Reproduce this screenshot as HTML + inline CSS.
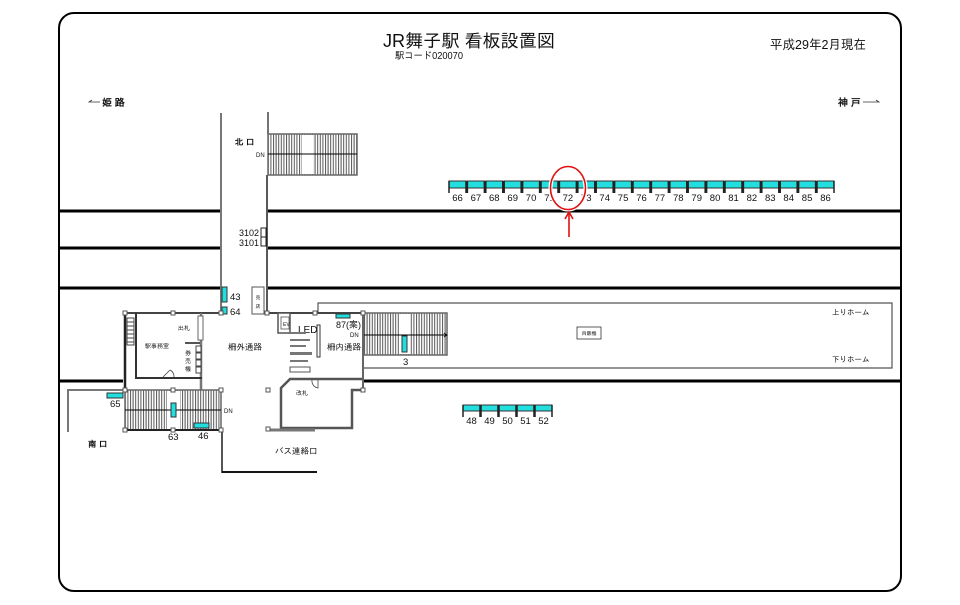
<!DOCTYPE html>
<html><head><meta charset="utf-8">
<style>
html,body{margin:0;padding:0;background:#fff;}
svg{display:block;}
text{font-family:"Liberation Sans","IPAGothic","Noto Sans CJK JP",sans-serif;fill:#111;}
</style></head>
<body>
<svg width="960" height="605" viewBox="0 0 960 605" xmlns="http://www.w3.org/2000/svg">
<defs>
<pattern id="h" width="2.6" height="10" patternUnits="userSpaceOnUse"><rect x="0" y="0" width="1" height="10" fill="#555"/></pattern>
</defs>
<rect width="960" height="605" fill="#fff"/>
<rect x="59" y="13" width="842" height="578" rx="15" fill="#fff" stroke="#000" stroke-width="2"/>

<!-- titles -->
<text x="383" y="47" font-size="18" textLength="172" lengthAdjust="spacingAndGlyphs">JR舞子駅 看板設置図</text>
<text x="395" y="59" font-size="10" textLength="68" lengthAdjust="spacingAndGlyphs">駅コード020070</text>
<text x="770" y="49" font-size="13" textLength="96" lengthAdjust="spacingAndGlyphs">平成29年2月現在</text>
<polyline points="100,102 89,102 92,100" fill="none" stroke="#333" stroke-width="0.8"/>
<text x="102" y="106" font-size="10" font-weight="bold">姫 路</text>
<text x="838" y="106" font-size="10" font-weight="bold">神 戸</text>
<polyline points="863,102 879,102 876,100" fill="none" stroke="#333" stroke-width="0.8"/>

<!-- tracks -->
<g stroke="#000" stroke-width="3">
<line x1="58" y1="211" x2="220" y2="211"/><line x1="268" y1="211" x2="902" y2="211"/>
<line x1="58" y1="248" x2="220" y2="248"/><line x1="268" y1="248" x2="902" y2="248"/>
<line x1="58" y1="288" x2="220" y2="288"/><line x1="268" y1="288" x2="902" y2="288"/>
<line x1="58" y1="381" x2="123" y2="381"/><line x1="363" y1="381" x2="902" y2="381"/>
</g>

<!-- north passage -->
<line x1="221" y1="113" x2="221" y2="313" stroke="#777" stroke-width="2"/>
<line x1="268" y1="112" x2="268" y2="134" stroke="#444" stroke-width="1.5"/>
<line x1="267" y1="175" x2="267" y2="313" stroke="#222" stroke-width="1.5"/>
<rect x="268" y="134" width="89" height="41" fill="url(#h)" stroke="#666" stroke-width="1.5"/>
<rect x="302" y="135" width="11" height="39" fill="#fff"/>
<line x1="268" y1="154" x2="357" y2="154" stroke="#000" stroke-width="1"/>
<text x="256" y="157" font-size="6">DN</text>
<text x="235" y="145" font-size="8.5" font-weight="bold">北 口</text>

<text x="259" y="236" font-size="9" text-anchor="end">3102</text>
<text x="259" y="246" font-size="9" text-anchor="end">3101</text>
<rect x="261" y="228" width="5" height="9" fill="#fff" stroke="#222" stroke-width="1"/>
<rect x="261" y="237" width="5" height="9" fill="#fff" stroke="#222" stroke-width="1"/>

<rect x="222" y="287" width="5" height="15" fill="#22dede" stroke="#333" stroke-width="1"/>
<text x="230" y="300" font-size="9.5">43</text>
<rect x="222" y="307" width="5" height="7" fill="#22dede" stroke="#333" stroke-width="1"/>
<text x="230" y="315" font-size="9.5">64</text>
<rect x="252" y="287" width="12" height="27" fill="#fff" stroke="#555" stroke-width="1"/>
<text x="258" y="299" font-size="5" text-anchor="middle">売</text>
<text x="258" y="308" font-size="5" text-anchor="middle">店</text>

<!-- platform -->
<polyline points="318,313 318,303 892,303 892,368 363,368" fill="none" stroke="#555" stroke-width="1.2"/>
<text x="832" y="315" font-size="7.5">上りホーム</text>
<text x="832" y="362" font-size="7.5">下りホーム</text>
<rect x="577" y="327" width="24" height="12" fill="#fff" stroke="#333" stroke-width="0.8"/>
<text x="589" y="335" font-size="5" text-anchor="middle">自販機</text>

<!-- walls top -->
<g stroke="#444" stroke-width="2">
<line x1="125" y1="313" x2="222" y2="313"/>
<line x1="267" y1="313" x2="363" y2="313"/>
</g>
<line x1="125" y1="313" x2="125" y2="390" stroke="#222" stroke-width="2.5"/>
<line x1="201" y1="313" x2="201" y2="390" stroke="#777" stroke-width="2.5"/>
<polyline points="136,313 136,378 202,378" fill="none" stroke="#333" stroke-width="2"/>
<g stroke="#444" stroke-width="1">
<rect x="127" y="318" width="7" height="27" fill="#fff"/>
<line x1="127" y1="322" x2="134" y2="322"/><line x1="127" y1="326" x2="134" y2="326"/><line x1="127" y1="330" x2="134" y2="330"/><line x1="127" y1="334" x2="134" y2="334"/><line x1="127" y1="338" x2="134" y2="338"/><line x1="127" y1="342" x2="134" y2="342"/>
</g>
<rect x="198" y="316" width="5" height="24" fill="#fff" stroke="#666" stroke-width="1"/>
<line x1="185" y1="343" x2="200" y2="343" stroke="#555" stroke-width="2"/>
<g fill="#fff" stroke="#444" stroke-width="1">
<rect x="196" y="346" width="5" height="6"/><rect x="196" y="353" width="5" height="6"/><rect x="196" y="360" width="5" height="6"/><rect x="196" y="367" width="5" height="6"/>
</g>
<path d="M163 377 L170 370 M170 370 A7 7 0 0 1 174 377" fill="none" stroke="#444" stroke-width="0.8"/>
<text x="178" y="330" font-size="6">出札</text>
<text x="145" y="348" font-size="6">駅事務室</text>
<text x="188" y="355" font-size="6" text-anchor="middle">券</text>
<text x="188" y="363" font-size="6" text-anchor="middle">売</text>
<text x="188" y="371" font-size="6" text-anchor="middle">機</text>
<text x="228" y="350" font-size="8.5">柵外通路</text>

<!-- south stair -->
<polyline points="68,432 68,390 125,390" fill="none" stroke="#777" stroke-width="2"/>
<rect x="125" y="390" width="96" height="40" fill="url(#h)" stroke="#666" stroke-width="1.5"/>
<rect x="167" y="391" width="13" height="38" fill="#fff"/>
<line x1="125" y1="430" x2="221" y2="430" stroke="#222" stroke-width="2"/>
<line x1="125" y1="410" x2="221" y2="410" stroke="#000" stroke-width="1"/>
<text x="224" y="413" font-size="6">DN</text>
<rect x="171" y="403" width="5" height="14" fill="#22dede" stroke="#333" stroke-width="1"/>
<rect x="107" y="393" width="16" height="5" fill="#22dede" stroke="#333" stroke-width="1"/>
<text x="110" y="407" font-size="9.5">65</text>
<rect x="194" y="423" width="15" height="5" fill="#22dede" stroke="#333" stroke-width="1"/>
<text x="198" y="439" font-size="9.5">46</text>
<text x="168" y="440" font-size="9.5">63</text>
<text x="88" y="447" font-size="8.5" font-weight="bold">南 口</text>
<polyline points="222,430 222,472 317,472" fill="none" stroke="#555" stroke-width="2"/>
<line x1="222" y1="472" x2="317" y2="472" stroke="#000" stroke-width="1.5"/>

<!-- inner -->
<rect x="278" y="313" width="12" height="20" fill="#fff" stroke="#555" stroke-width="1.5"/>
<rect x="281" y="317" width="8" height="12" fill="#fff" stroke="#555" stroke-width="0.8"/>
<text x="283" y="326" font-size="5">EV</text>
<text x="298" y="333" font-size="10">LED</text>
<rect x="317" y="325" width="3" height="32" fill="#fff" stroke="#333" stroke-width="1"/>
<g fill="#777">
<rect x="288" y="332" width="18" height="2"/><rect x="290" y="339" width="20" height="2"/><rect x="290" y="345" width="16" height="2"/>
<rect x="290" y="352" width="22" height="3"/><rect x="290" y="360" width="18" height="2"/>
</g>
<rect x="290" y="367" width="20" height="5" fill="#fff" stroke="#555" stroke-width="1"/>
<rect x="336" y="314" width="14" height="4" fill="#22dede" stroke="#333" stroke-width="1"/>
<text x="336" y="328" font-size="9.5" textLength="25" lengthAdjust="spacingAndGlyphs">87(案)</text>
<text x="327" y="350" font-size="8.5">柵内通路</text>

<rect x="363" y="313" width="84" height="42" fill="url(#h)" stroke="#666" stroke-width="1.5"/>
<rect x="399" y="314" width="11" height="40" fill="#fff"/>
<line x1="363" y1="335" x2="447" y2="335" stroke="#000" stroke-width="1"/>
<polyline points="444,333 447,335 444,337" fill="none" stroke="#000" stroke-width="0.8"/>
<text x="350" y="337" font-size="6">DN</text>
<rect x="402" y="336" width="5" height="16" fill="#22dede" stroke="#333" stroke-width="1"/>
<text x="403" y="365" font-size="9.5">3</text>
<line x1="363" y1="313" x2="363" y2="390" stroke="#666" stroke-width="2"/>

<polyline points="362,379 290,379 281,388 281,428 352,428 352,390 363,390" fill="none" stroke="#555" stroke-width="2.5"/>
<path d="M312 380 A7 7 0 0 0 318 388 L318 380" fill="none" stroke="#444" stroke-width="0.8"/>
<text x="296" y="395" font-size="6">改札</text>
<line x1="268" y1="430" x2="315" y2="430" stroke="#777" stroke-width="3"/>
<text x="275" y="454" font-size="8.5">バス連絡口</text>

<!-- nodes -->
<g fill="#fff" stroke="#555" stroke-width="1">
<rect x="123" y="311" width="4" height="4"/><rect x="171" y="311" width="4" height="4"/><rect x="219" y="311" width="4" height="4"/>
<rect x="265" y="311" width="4" height="4"/><rect x="313" y="311" width="4" height="4"/><rect x="361" y="311" width="4" height="4"/>
<rect x="123" y="388" width="4" height="4"/><rect x="171" y="388" width="4" height="4"/><rect x="219" y="388" width="4" height="4"/>
<rect x="123" y="428" width="4" height="4"/><rect x="171" y="428" width="4" height="4"/><rect x="219" y="428" width="4" height="4"/>
<rect x="266" y="388" width="4" height="4"/><rect x="361" y="388" width="4" height="4"/><rect x="266" y="427" width="4" height="4"/>
</g>

<!-- sign rows -->
<g id="signs" font-size="9.5">
<g stroke="#333" stroke-width="1">
<rect x="449" y="181" width="17" height="7" fill="#22dede"/><rect x="467.4" y="181" width="17" height="7" fill="#22dede"/><rect x="485.8" y="181" width="17" height="7" fill="#22dede"/><rect x="504.2" y="181" width="17" height="7" fill="#22dede"/><rect x="522.6" y="181" width="17" height="7" fill="#22dede"/><rect x="541" y="181" width="17" height="7" fill="#22dede"/><rect x="559.4" y="181" width="17" height="7" fill="#22dede"/><rect x="577.8" y="181" width="17" height="7" fill="#22dede"/><rect x="596.2" y="181" width="17" height="7" fill="#22dede"/><rect x="614.6" y="181" width="17" height="7" fill="#22dede"/><rect x="633" y="181" width="17" height="7" fill="#22dede"/><rect x="651.4" y="181" width="17" height="7" fill="#22dede"/><rect x="669.8" y="181" width="17" height="7" fill="#22dede"/><rect x="688.2" y="181" width="17" height="7" fill="#22dede"/><rect x="706.6" y="181" width="17" height="7" fill="#22dede"/><rect x="725" y="181" width="17" height="7" fill="#22dede"/><rect x="743.4" y="181" width="17" height="7" fill="#22dede"/><rect x="761.8" y="181" width="17" height="7" fill="#22dede"/><rect x="780.2" y="181" width="17" height="7" fill="#22dede"/><rect x="798.6" y="181" width="17" height="7" fill="#22dede"/><rect x="817" y="181" width="17" height="7" fill="#22dede"/>
</g>
<g stroke="#222" stroke-width="1.5">
<path d="M449 181v12M466 181v12M467.4 181v12M484.4 181v12M485.8 181v12M502.8 181v12M504.2 181v12M521.2 181v12M522.6 181v12M539.6 181v12M541 181v12M558 181v12M559.4 181v12M576.4 181v12M577.8 181v12M594.8 181v12M596.2 181v12M613.2 181v12M614.6 181v12M631.6 181v12M633 181v12M650 181v12M651.4 181v12M668.4 181v12M669.8 181v12M686.8 181v12M688.2 181v12M705.2 181v12M706.6 181v12M723.6 181v12M725 181v12M742 181v12M743.4 181v12M760.4 181v12M761.8 181v12M778.8 181v12M780.2 181v12M797.2 181v12M798.6 181v12M815.6 181v12M817 181v12M834 181v12"/>
</g>
<g text-anchor="middle">
<text x="457.5" y="201">66</text><text x="475.9" y="201">67</text><text x="494.3" y="201">68</text><text x="512.7" y="201">69</text><text x="531.1" y="201">70</text><text x="549.5" y="201">71</text><text x="567.9" y="201">72</text><text x="586.3" y="201">73</text><text x="604.7" y="201">74</text><text x="623.1" y="201">75</text><text x="641.5" y="201">76</text><text x="659.9" y="201">77</text><text x="678.3" y="201">78</text><text x="696.7" y="201">79</text><text x="715.1" y="201">80</text><text x="733.5" y="201">81</text><text x="751.9" y="201">82</text><text x="770.3" y="201">83</text><text x="788.7" y="201">84</text><text x="807.1" y="201">85</text><text x="825.5" y="201">86</text>
</g>
</g>

<g font-size="9.5">
<g stroke="#333" stroke-width="1" fill="#22dede">
<rect x="463" y="405" width="17" height="6"/><rect x="481" y="405" width="17" height="6"/><rect x="499" y="405" width="17" height="6"/><rect x="517" y="405" width="17" height="6"/><rect x="535" y="405" width="17" height="6"/>
</g>
<path d="M463 405v12M480 405v12M481 405v12M498 405v12M499 405v12M516 405v12M517 405v12M534 405v12M535 405v12M552 405v12" stroke="#222" stroke-width="1.5"/>
<g text-anchor="middle">
<text x="471.5" y="424">48</text><text x="489.5" y="424">49</text><text x="507.5" y="424">50</text><text x="525.5" y="424">51</text><text x="543.5" y="424">52</text>
</g>
</g>

<!-- red mark -->
<ellipse cx="568" cy="188" rx="17.5" ry="21.5" fill="none" stroke="#fff" stroke-width="4"/>
<ellipse cx="568" cy="188" rx="17.5" ry="21.5" fill="none" stroke="#e01010" stroke-width="1.6"/>
<line x1="569" y1="212" x2="569" y2="237" stroke="#e01010" stroke-width="1.6"/>
<polyline points="565,219 569,212 573,219" fill="none" stroke="#e01010" stroke-width="1.6"/>
</svg>
</body></html>
